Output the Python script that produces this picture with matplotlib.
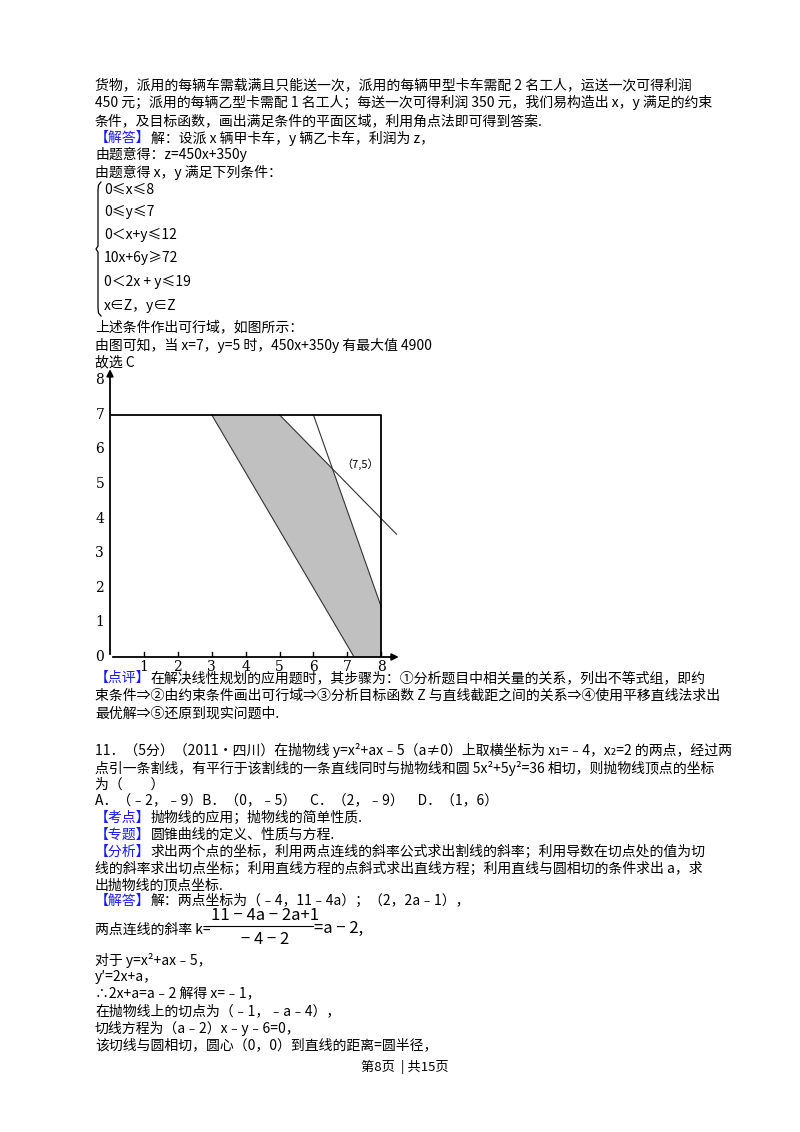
import matplotlib
matplotlib.use("Agg")
import matplotlib.pyplot as plt
import numpy as np

plt.rcParams['font.family'] = ['Noto Sans CJK SC', 'DejaVu Sans']

# chart data
region_x = [3, 5, 6.56, 8, 8, 7.2]
region_y = [7, 7, 5.44, 1.45, 0, 0]
line1_x = [3, 7.2]; line1_y = [7, 0]          # 10x+6y=72
line2_x = [5, 8.45]; line2_y = [7, 3.55]      # x+y=12
line3_x = [6, 8]; line3_y = [7, 1.45]         # steep line
xticks = [1, 2, 3, 4, 5, 6, 7, 8]
yticks = [0, 1, 2, 3, 4, 5, 6, 7, 8]

W, H = 800, 1132
fig = plt.figure(figsize=(8, 11.32), dpi=100)
FS = 10
EM = FS * 100 / 72

def T(x, y, s, color='black', fs=FS, **kw):
    fig.text(x / W, 1 - y / H, s, fontsize=fs, color=color, va='center', ha=kw.pop('ha', 'left'), **kw)

def TB(x, y, tag, rest):
    T(x, y, tag, color='#1a1aff')
    T(x + len(tag) * EM, y, rest)

L = 95
T(L, 85, "货物，派用的每辆车需载满且只能送一次，派用的每辆甲型卡车需配 2 名工人，运送一次可得利润")
T(L, 103, "450 元；派用的每辆乙型卡需配 1 名工人；每送一次可得利润 350 元，我们易构造出 x，y 满足的约束")
T(L, 121, "条件，及目标函数，画出满足条件的平面区域，利用角点法即可得到答案.")
TB(L, 138, "【解答】", "解：设派 x 辆甲卡车，y 辆乙卡车，利润为 z，")
T(L, 155, "由题意得：z=450x+350y")
T(L, 172, "由题意得 x，y 满足下列条件：")
# curly brace drawn as a path (pixel coordinates)
top, bot, mid = 182, 316, 249
bx = [101, 98.5, 98, 98, 96, 98, 98, 98.5, 101]
by = [top, top + 3, top + 8, mid - 3, mid, mid + 3, bot - 8, bot - 3, bot]
fig.add_artist(plt.Line2D([v / W for v in bx], [1 - v / H for v in by], color='black', lw=0.9))
for yy, s in zip([190, 212, 235, 258, 282, 306],
                 ["0≤x≤8", "0≤y≤7", "0＜x+y≤12", "10x+6y≥72", "0＜2x + y≤19", "x∈Z，y∈Z"]):
    T(104, yy, s)
T(L, 327, "上述条件作出可行域，如图所示：")
T(L, 345, "由图可知，当 x=7，y=5 时，450x+350y 有最大值 4900")
T(L, 362, "故选 C")

# chart
ux, uy = 33.9, 34.6
xmax, ymax = 8.9, 8.5
ax = fig.add_axes([110 / W, 1 - 657 / H, xmax * ux / W, ymax * uy / H])
ax.set_xlim(0, xmax); ax.set_ylim(0, ymax)
ax.axis('off')
ax.fill(region_x, region_y, color='#c0c0c0', lw=0)
ax.plot(line1_x, line1_y, color='#333', lw=0.8)
ax.plot(line2_x, line2_y, color='#333', lw=0.8)
ax.plot(line3_x, line3_y, color='#333', lw=0.8)
ax.plot([0, 8, 8], [7, 7, 0], color='black', lw=1.3)
ax.annotate('', xy=(8.6, 0), xytext=(0, 0), arrowprops=dict(arrowstyle='-|>', color='black', lw=1.3))
ax.annotate('', xy=(0, 8.4), xytext=(0, 0), arrowprops=dict(arrowstyle='-|>', color='black', lw=1.3))
for t in xticks:
    ax.plot([t, t], [0, 0.15], color='black', lw=1)
    ax.text(t, -0.3, str(t), ha='center', va='center', fontsize=10, family=['DejaVu Serif'])
for t in yticks:
    ax.text(-0.3, t, str(t), ha='center', va='center', fontsize=10, family=['DejaVu Serif'])
ax.text(7.37, 5.58, "（7,5）", ha='center', va='center', fontsize=8)

TB(L, 678, "【点评】", "在解决线性规划的应用题时，其步骤为：①分析题目中相关量的关系，列出不等式组，即约")
T(L, 696, "束条件⇒②由约束条件画出可行域⇒③分析目标函数 Z 与直线截距之间的关系⇒④使用平移直线法求出")
T(L, 714, "最优解⇒⑤还原到现实问题中.")
T(L, 750, "11．（5分）（2011•四川）在抛物线 y=x²+ax﹣5（a≠0）上取横坐标为 x₁=﹣4，x₂=2 的两点，经过两")
T(L, 768, "点引一条割线，有平行于该割线的一条直线同时与抛物线和圆 5x²+5y²=36 相切，则抛物线顶点的坐标")
T(L, 785, "为（　　）")
T(L, 801, "A．（﹣2，﹣9）B．（0，﹣5）　C．（2，﹣9）　D．（1，6）")
TB(L, 818, "【考点】", "抛物线的应用；抛物线的简单性质.")
TB(L, 835, "【专题】", "圆锥曲线的定义、性质与方程.")
TB(L, 852, "【分析】", "求出两个点的坐标，利用两点连线的斜率公式求出割线的斜率；利用导数在切点处的值为切")
T(L, 869, "线的斜率求出切点坐标；利用直线方程的点斜式求出直线方程；利用直线与圆相切的条件求出 a，求")
T(L, 885, "出抛物线的顶点坐标.")
TB(L, 901, "【解答】", "解：两点坐标为（﹣4，11﹣4a）；（2，2a﹣1），")
T(L, 930, "两点连线的斜率 k=")
T(265, 916, "11 − 4a − 2a+1", ha='center', fs=12)
fig.add_artist(plt.Line2D([206 / W, 313 / W], [1 - 926 / H, 1 - 926 / H], color='black', lw=0.8))
T(265, 939, "− 4 − 2", ha='center', fs=12)
T(314, 928, "=a − 2,", fs=12)
T(L, 960, "对于 y=x²+ax﹣5，")
T(L, 977, "y′=2x+a，")
T(L, 994, "∴2x+a=a﹣2 解得 x=﹣1，")
T(L, 1011, "在抛物线上的切点为（﹣1，﹣a﹣4），")
T(L, 1028, "切线方程为（a﹣2）x﹣y﹣6=0，")
T(L, 1045, "该切线与圆相切，圆心（0，0）到直线的距离=圆半径，")
T(405, 1067, "第8页  | 共15页", ha='center', fs=9.5)

fig.savefig("out.png", dpi=100)
